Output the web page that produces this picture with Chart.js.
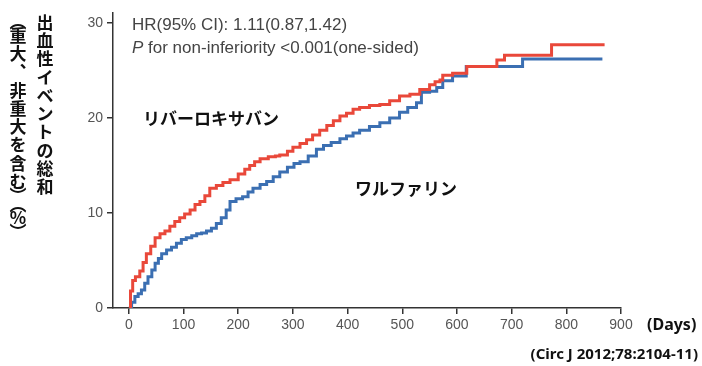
<!DOCTYPE html>
<html>
<head>
<meta charset="utf-8">
<script src="https://cdn.jsdelivr.net/npm/chart.js@4.4.0/dist/chart.umd.min.js"></script>
<style>
    html, body { margin: 0; padding: 0; background: #fff; }
    #wrap { width: 702px; height: 366px; position: relative; }
</style>
</head>
<body>
<div id="wrap"><canvas id="myChart"></canvas></div>
<script>
// cumulative bleeding events (%)
const redDays = [0, 3, 7, 12, 20, 26, 32, 40, 48, 57, 66, 75, 84, 93, 102, 112, 121, 130, 139, 148, 160, 172, 185, 200, 212, 221, 230, 240, 255, 268, 276, 290, 300, 313, 325, 336, 349, 362, 374, 386, 398, 410, 422, 440, 459, 477, 495, 514, 532, 550, 560, 569, 574, 592, 618, 673, 687, 773, 870]
const redValues = [0, 1.8, 2.9, 3.3, 3.9, 4.8, 5.7, 6.5, 7.4, 7.8, 8.1, 8.6, 9.1, 9.5, 9.9, 10.3, 10.9, 11.2, 11.8, 12.6, 12.9, 13.2, 13.5, 14.1, 14.6, 15.0, 15.4, 15.7, 15.9, 16.0, 16.1, 16.5, 16.9, 17.3, 17.7, 18.2, 18.7, 19.2, 19.7, 20.2, 20.5, 20.9, 21.1, 21.3, 21.4, 21.8, 22.3, 22.5, 23.0, 23.5, 23.8, 24.0, 24.5, 24.7, 25.4, 26.1, 26.6, 27.7, 27.7]
const blueDays = [0, 5, 11, 17, 23, 29, 35, 42, 48, 54, 60, 69, 78, 87, 96, 105, 115, 124, 133, 142, 151, 160, 169, 178, 185, 196, 208, 218, 227, 240, 252, 264, 276, 290, 302, 313, 328, 343, 356, 370, 386, 398, 410, 422, 440, 459, 477, 495, 510, 526, 535, 550, 563, 574, 592, 617, 720, 866]
const blueValues = [0, 0.6, 1.2, 1.5, 1.9, 2.6, 3.3, 4.0, 4.7, 5.2, 5.7, 6.1, 6.4, 6.8, 7.2, 7.4, 7.6, 7.8, 7.9, 8.1, 8.4, 8.9, 9.5, 10.3, 11.2, 11.5, 11.7, 12.2, 12.6, 13.0, 13.3, 13.8, 14.3, 14.8, 15.2, 15.4, 16.0, 16.7, 17.1, 17.4, 17.8, 18.1, 18.4, 18.7, 19.1, 19.5, 20.0, 20.6, 21.1, 21.6, 22.7, 22.8, 23.2, 23.9, 24.4, 25.4, 26.2, 26.2]

const xTicks = [0, 100, 200, 300, 400, 500, 600, 700, 800, 900]
const yTicks = [0, 10, 20, 30]

const redLabel = 'リバーロキサバン'
const blueLabel = 'ワルファリン'
const hrText = 'HR(95% CI): 1.11(0.87,1.42)'
const pText = ' for non-inferiority <0.001(one-sided)'
const yTitleRight = '出血性イベントの総和'
const yTitleLeft = '（重大、非重大を含む）（%）'
const xUnit = '(Days)'
const source = '(Circ J 2012;78:2104-11)'

const RED = '#e9483a'
const BLUE = '#3b6fb2'

// vertical japanese text, one glyph per cell
function drawVertical(ctx, text, cx, top) {
    const vert = { '（': '︵', '）': '︶', '、': '︑' }
    let y = top
    for (const ch of text) {
        const half = ch === '（' || ch === '）'
        const h = half ? 9 : 18.3
        ctx.fillText(vert[ch] || ch, cx, y + h / 2)
        y += h
    }
}

const labelsPlugin = {
    id: 'labels',
    afterDraw(chart) {
        const ctx = chart.ctx
        ctx.save()
        ctx.fillStyle = '#444'
        ctx.textBaseline = 'alphabetic'
        ctx.textAlign = 'left'
        ctx.font = '17px "Liberation Sans"'
        ctx.fillText(hrText, 132, 30)
        ctx.font = 'italic 17px "Liberation Sans"'
        ctx.fillText('P', 132, 53)
        const pw = ctx.measureText('P').width
        ctx.font = '17px "Liberation Sans"'
        ctx.fillText(pText, 132 + pw, 53)

        ctx.fillStyle = '#111'
        ctx.textBaseline = 'middle'
        ctx.font = 'bold 17px "Noto Sans CJK JP"'
        ctx.fillText(redLabel, 143, 119)
        ctx.fillText(blueLabel, 355, 189)

        ctx.textAlign = 'center'
        ctx.font = 'bold 17px "Noto Sans CJK JP"'
        drawVertical(ctx, yTitleRight, 45, 13)
        drawVertical(ctx, yTitleLeft, 18, 17)

        ctx.textAlign = 'left'
        ctx.font = 'bold 16px "Noto Sans"'
        ctx.fillText(xUnit, 647, 325)
        ctx.textAlign = 'right'
        ctx.font = 'bold 15px "Noto Sans"'
        ctx.fillText(source, 698, 355)
        ctx.restore()
    },
}

const ctx = document.getElementById('myChart')
const chart = new Chart(ctx, {
    type: 'line',
    data: {
        datasets: [
            {
                label: redLabel,
                data: redDays.map((d, i) => ({ x: d, y: redValues[i] })),
                borderColor: RED,
                borderWidth: 3,
                stepped: true,
                pointRadius: 0,
                fill: false,
            },
            {
                label: blueLabel,
                data: blueDays.map((d, i) => ({ x: d, y: blueValues[i] })),
                borderColor: BLUE,
                borderWidth: 3,
                stepped: true,
                pointRadius: 0,
                fill: false,
            },
        ],
    },
    options: {
        responsive: true,
        maintainAspectRatio: false,
        animation: false,
        layout: { padding: { top: 10, right: 81, bottom: 0, left: 0 } },
        plugins: {
            legend: { display: false },
            tooltip: { enabled: false },
        },
        scales: {
            x: {
                type: 'linear',
                min: -29,
                max: 900,
                afterBuildTicks: (s) => { s.ticks = xTicks.map((v) => ({ value: v })) },
                afterFit: (s) => { s.height = 58 },
                ticks: {
                    font: { family: 'Liberation Sans', size: 14 },
                    color: '#555',
                    padding: 3,
                    maxRotation: 0,
                    autoSkip: false,
                },
                grid: { drawOnChartArea: false, tickLength: 6, color: '#333', lineWidth: 1.5 },
                border: { color: '#333', width: 1.5 },
            },
            y: {
                min: 0,
                max: 31.1,
                afterBuildTicks: (s) => { s.ticks = yTicks.map((v) => ({ value: v })) },
                afterFit: (s) => { s.width = 113 },
                ticks: {
                    font: { family: 'Liberation Sans', size: 14 },
                    color: '#555',
                    padding: 4,
                },
                grid: { drawOnChartArea: false, tickLength: 6, color: '#333', lineWidth: 1.5 },
                border: { color: '#333', width: 1.5 },
            },
        },
    },
    plugins: [labelsPlugin],
})
</script>
</body>
</html>
